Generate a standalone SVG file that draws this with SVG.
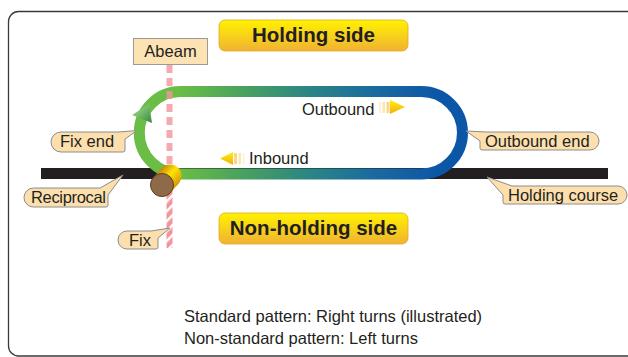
<svg xmlns="http://www.w3.org/2000/svg" width="628" height="357" viewBox="0 0 628 357">
<defs>
<style>
.lbl{font-family:"Liberation Sans",Arial,sans-serif;font-size:16.5px;fill:#231f20}
.badge-t{font-family:"Liberation Sans",Arial,sans-serif;font-size:20.5px;font-weight:bold;fill:#231f20}
.call{fill:#fddfae;stroke:#8c8c8c;stroke-width:1}
.badge{fill:url(#gBadge);stroke:#e0a826;stroke-width:0.8}
</style>
<linearGradient id="gBadge" x1="0" y1="0" x2="0" y2="1">
<stop offset="0" stop-color="#fff200"/>
<stop offset="1" stop-color="#f0b233"/>
</linearGradient>
<linearGradient id="gTrack" gradientUnits="userSpaceOnUse" x1="180" y1="0" x2="440" y2="0">
<stop offset="0" stop-color="#6abd45"/>
<stop offset="0.25" stop-color="#48a060"/>
<stop offset="0.5" stop-color="#2a8585"/>
<stop offset="0.75" stop-color="#1a6aa0"/>
<stop offset="1" stop-color="#0b56a6"/>
</linearGradient>
<linearGradient id="gGreenArrow" x1="0" y1="0" x2="1" y2="1">
<stop offset="0" stop-color="#b8e39a"/>
<stop offset="1" stop-color="#2f8a3a"/>
</linearGradient>
<linearGradient id="gYellow" x1="0" y1="0" x2="0" y2="1">
<stop offset="0" stop-color="#fff000"/>
<stop offset="1" stop-color="#f2ad1a"/>
</linearGradient>
<linearGradient id="gCyl" gradientUnits="userSpaceOnUse" x1="156" y1="172" x2="176" y2="190">
<stop offset="0" stop-color="#c07a10"/>
<stop offset="0.45" stop-color="#ffe400"/>
<stop offset="1" stop-color="#d08a10"/>
</linearGradient>
<pattern id="hatch" patternUnits="userSpaceOnUse" width="7" height="7" patternTransform="rotate(45)">
<rect x="0" y="0" width="7" height="7" fill="#f4949c"/>
<rect x="0" y="0" width="2.5" height="7" fill="#ffffff"/>
</pattern>
</defs>

<rect x="8.5" y="11.5" width="640" height="344.5" rx="10" fill="#ffffff" stroke="#3a3a3a" stroke-width="1.3"/>

<g id="holding-course-line">
<rect x="41" y="168" width="567" height="11" fill="#231f20"/>
</g>

<g id="track">
<path d="M180,91.5 H421.25 A41.25,41.25 0 0 1 421.25,174 H180" fill="none" stroke="url(#gTrack)" stroke-width="11"/>
<path d="M180.5,91.5 A41.25,41.25 0 0 0 180.5,174" fill="none" stroke="#6abd45" stroke-width="11"/>
<polygon points="132,115 149,104 152,123" fill="url(#gGreenArrow)"/>
</g>

<g id="abeam-line">
<line x1="169.5" y1="65" x2="169.5" y2="180" stroke="#f4949c" stroke-width="6" stroke-dasharray="8,5" opacity="0.8"/>
<rect x="166.5" y="180" width="6" height="68" fill="url(#hatch)"/>
</g>

<g id="fix">
<circle cx="170" cy="176" r="11.5" fill="url(#gCyl)"/>
<polygon points="153.4,177.4 161.4,168.4 178.6,183.6 170.6,192.6" fill="url(#gCyl)"/>
<circle cx="162" cy="185" r="11.5" fill="#8e6a48" stroke="#5e4024" stroke-width="1"/>
</g>

<g id="outbound-arrow">
<rect x="379" y="102" width="2" height="11" fill="#f5c040" opacity="0.2"/>
<rect x="382.5" y="102" width="2.5" height="11" fill="#f5c040" opacity="0.4"/>
<rect x="386.5" y="102" width="3" height="11" fill="#f5c040" opacity="0.65"/>
<polygon points="390,100 405,107 390,114" fill="url(#gYellow)"/>
<text class="lbl" x="302" y="115">Outbound</text>
</g>

<g id="inbound-arrow">
<polygon points="220,158.5 233,152 233,165" fill="url(#gYellow)"/>
<rect x="234" y="153" width="3" height="11" fill="#f5c040" opacity="0.65"/>
<rect x="238.5" y="153" width="2.5" height="11" fill="#f5c040" opacity="0.4"/>
<rect x="242.5" y="153" width="2" height="11" fill="#f5c040" opacity="0.2"/>
<text class="lbl" x="249" y="164">Inbound</text>
</g>

<g id="holding-side">
<rect class="badge" x="219" y="20" width="189" height="31" rx="6"/>
<text class="badge-t" x="313.5" y="42" text-anchor="middle">Holding side</text>
</g>

<g id="non-holding-side">
<rect class="badge" x="219" y="213" width="189" height="31" rx="6"/>
<text class="badge-t" x="313.5" y="235" text-anchor="middle">Non-holding side</text>
</g>

<g id="abeam">
<rect x="133.5" y="38.5" width="74" height="26" fill="#fde2b4" stroke="#9a9a9a" stroke-width="1"/>
<text class="lbl" x="170.5" y="57" text-anchor="middle" font-size="17">Abeam</text>
</g>

<g id="fix-end">
<path class="call" d="M61,132 H119 L137,130.5 L125,139 V150 Q125,152 123,152 H61 A10,10 0 0 1 61,132 Z"/>
<text class="lbl" x="60" y="147">Fix end</text>
</g>

<g id="reciprocal">
<path class="call" d="M33.5,188 H100 L123,175 L108,195 V205 Q108,207 106,207 H33.5 A9.5,9.5 0 0 1 33.5,188 Z"/>
<text class="lbl" x="31" y="203" textLength="75">Reciprocal</text>
</g>

<g id="fix-label">
<path class="call" d="M127,231 H151 L170,228 L158,238 V247 Q158,249 156,249 H127 A9,9 0 0 1 127,231 Z"/>
<text class="lbl" x="129" y="245.5">Fix</text>
</g>

<g id="outbound-end">
<path class="call" d="M466,131 L487,132 H590 A9,9 0 0 1 590,150 H482 Q480,150 480,148 V141 Z"/>
<text class="lbl" x="485" y="146.5">Outbound end</text>
</g>

<g id="holding-course">
<path class="call" d="M487,177 L512,186 H618 A9,9 0 0 1 618,204 H505 Q503,204 503,202 V195 Z"/>
<text class="lbl" x="508" y="201">Holding course</text>
</g>

<g id="notes">
<text class="lbl" x="184" y="322">Standard pattern: Right turns (illustrated)</text>
<text class="lbl" x="184" y="344">Non-standard pattern: Left turns</text>
</g>
</svg>
